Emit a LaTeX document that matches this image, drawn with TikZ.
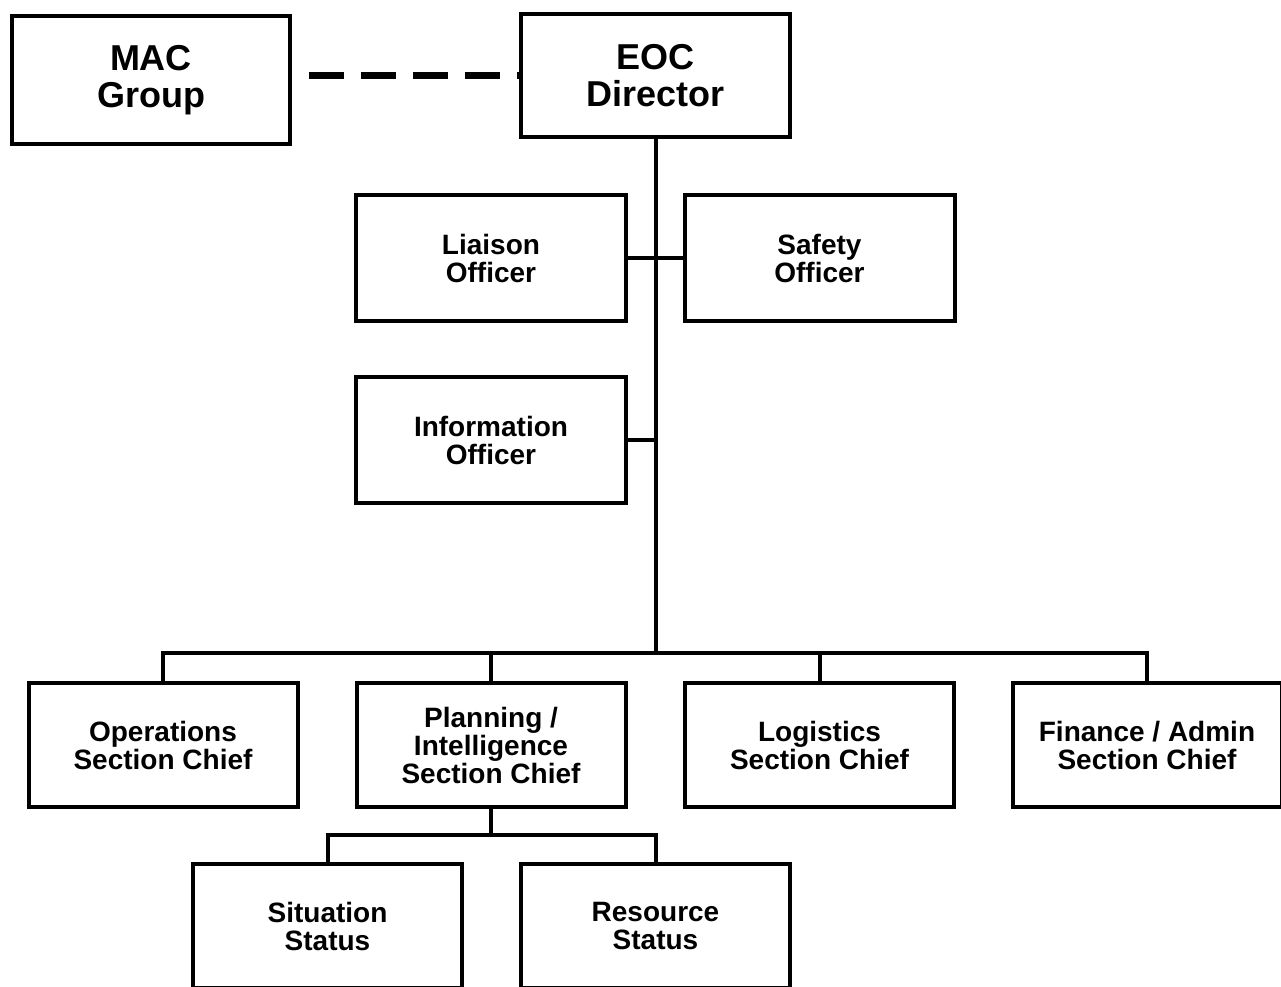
\documentclass[tikz,border=0pt]{standalone}
\usepackage{fontspec}
\setmainfont{Liberation Sans}

\begin{document}
\begin{tikzpicture}[x=0.75pt,y=-0.75pt,
  topbox/.style={draw,line width=3pt,align=center,inner sep=0pt,
    font=\bfseries\fontsize{27}{27.5}\selectfont},
  officebox/.style={draw,line width=3pt,align=center,inner sep=0pt,
    minimum width=202.5pt,minimum height=94.5pt,
    font=\bfseries\fontsize{21}{21}\selectfont},
  chiefbox/.style={officebox,minimum width=201.75pt,minimum height=93pt},
  link/.style={line width=3pt},
  dashlink/.style={line width=5.25pt,dash pattern=on 26.25pt off 12.75pt,dash phase=26.25pt}]
  \useasboundingbox (0,0) rectangle (1281,987);
  \clip (0,0) rectangle (1281,987);
  % top row
  \node[topbox,minimum width=208.5pt,minimum height=96pt] (mac) at (151,80) {MAC\\Group};
  \node[topbox,minimum width=201.75pt,minimum height=92.25pt] (eoc) at (655.5,75.5) {EOC\\Director};
  % command staff
  \node[officebox] (liaison) at (491,258) {Liaison\\Officer};
  \node[officebox] (safety) at (819.5,258) {Safety\\Officer};
  \node[officebox] (info) at (491,440) {Information\\Officer};
  % general staff
  \node[chiefbox] (ops) at (163,745) {Operations\\Section Chief};
  \node[chiefbox] (plan) at (491,745) {Planning /\\Intelligence\\Section Chief};
  \node[chiefbox] (log) at (819.5,745) {Logistics\\Section Chief};
  \node[chiefbox] (fin) at (1147,745) {Finance / Admin\\Section Chief};
  % planning units
  \node[chiefbox] (sit) at (327.5,926) {Situation\\Status};
  \node[chiefbox] (res) at (655.5,926) {Resource\\Status};
  \coordinate (topbus) at (655.5,653);
  \coordinate (subbus) at (491,835);
  % connectors
  \draw[dashlink] (eoc.west -| mac.east) -- (eoc.west);
  \draw[link] (eoc.south) -- (topbus);
  \draw[link] (liaison.east) -- (safety.west);
  \draw[link] (info.east) -- (info.east -| eoc.south);
  \draw[link] (ops.north) |- (topbus) -| (fin.north);
  \draw[link] (plan.north) -- (plan.north |- topbus);
  \draw[link] (log.north) -- (log.north |- topbus);
  \draw[link] (plan.south) -- (subbus);
  \draw[link] (sit.north) |- (subbus) -| (res.north);
\end{tikzpicture}
\end{document}
